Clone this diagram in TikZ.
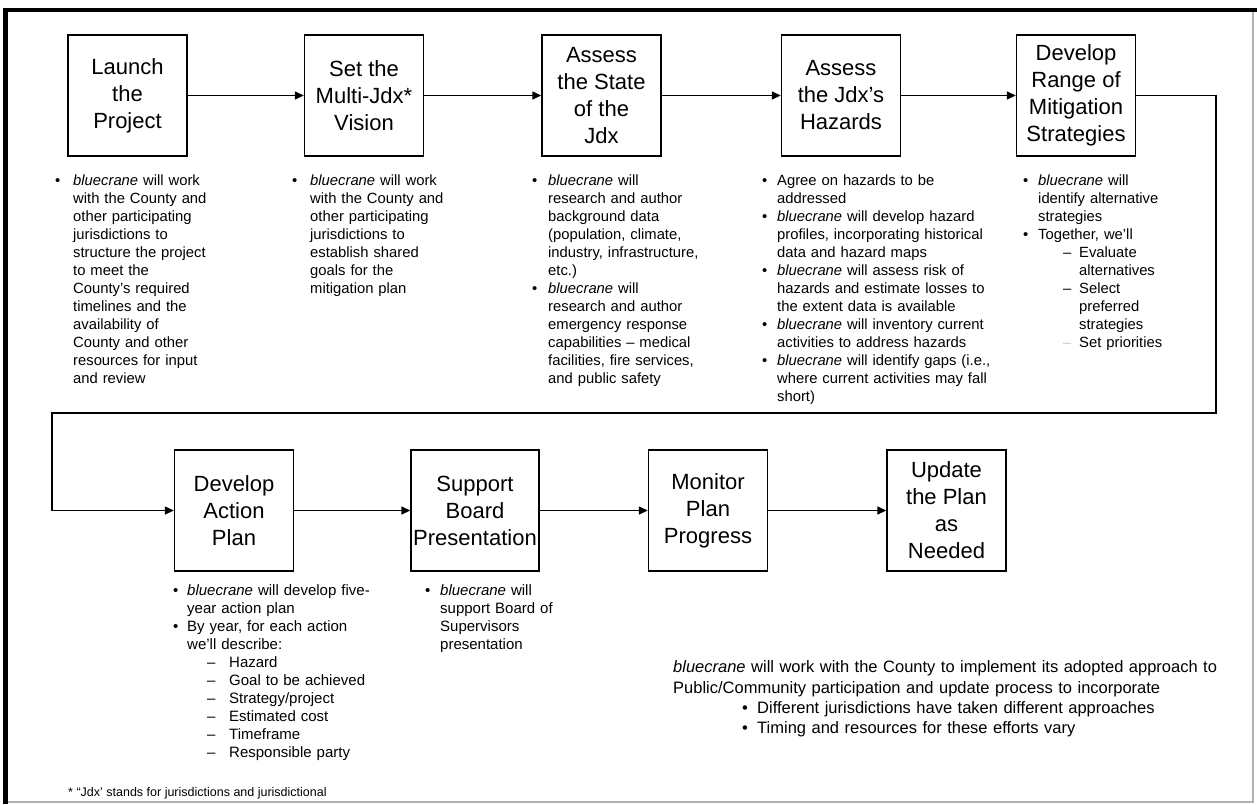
\documentclass[tikz,border=0pt]{standalone}
\usepackage{fontspec}
\setmainfont{Liberation Sans}
\usetikzlibrary{arrows.meta}
\setlength\parindent{0pt}
\newlength\bw
\newlength\dw
\newlength\sw
\newcommand\bul[1]{\makebox[\bw][l]{\textbullet}#1}
\newcommand\cnt[1]{\hspace*{\bw}#1}
\newcommand\subi[1]{\hspace*{\dw}\makebox[\sw][l]{–}#1}
\newcommand\subg[1]{\hspace*{\dw}\makebox[\sw][l]{\textcolor{gray!45}{–}}#1}
\newcommand\scnt[1]{\hspace*{\dw}\hspace*{\sw}#1}
\newcommand\bc{\textit{bluecrane}}
\tikzset{
  title/.style={draw, line width=1.4pt, minimum width=119pt, minimum height=121pt,
    inner sep=0pt, align=center, font=\fontsize{22}{27}\selectfont},
  conn/.style={line width=1.4pt, -{Triangle[length=9pt,width=8pt]}},
  txt/.style={anchor=north west, inner sep=0pt, text width=320pt, align=left,
    font=\fontsize{14.8}{18}\selectfont},
  txtb/.style={txt, font=\fontsize{15}{18}\selectfont},
}
\begin{document}
\begin{tikzpicture}[x=1pt,y=-1pt]
\useasboundingbox (0,0) rectangle (1257,804);
% frame
\draw[gray!60, line width=1.2pt] (5,802) -- (1253,802) -- (1253,10);
\draw[line width=5pt] (5,804) -- (5,10);
\draw[line width=4pt] (2.5,10) -- (1257,10);

% top row boxes
\node[title] (b1) at (127.5,95.5) {Launch\\the\\Project};
\node[title] (b2) at (364,95.5) {Set the\\Multi-Jdx*\\Vision};
\node[title] (b3) at (601.5,95.5) {Assess\\the State\\of the\\Jdx};
\node[title] (b4) at (841,95.5) {Assess\\the Jdx’s\\Hazards};
\node[title] (b5) at (1076,95.5) {Develop\\Range of\\Mitigation\\Strategies};

% bottom row boxes
\node[title] (b6) at (234,510.5) {Develop\\Action\\Plan};
\node[title, minimum width=128pt] (b7) at (475,510.5) {Support\\Board\\Presentation};
\node[title] (b8) at (708,510.5) {Monitor\\Plan\\Progress};
\node[title] (b9) at (946.5,510.5) {Update\\the Plan\\as\\Needed};

% connectors
\draw[conn] (b1) -- (b2);
\draw[conn] (b2) -- (b3);
\draw[conn] (b3) -- (b4);
\draw[conn] (b4) -- (b5);
\coordinate (tr) at (1216,413);
\coordinate (tl) at (52,413);
\draw[conn] (b5.east) -| (tr) -- (tl) |- (b6.west);
\draw[conn] (b6) -- (b7);
\draw[conn] (b7) -- (b8);
\draw[conn] (b8) -- (b9);

% top texts
\node[txt] (t1) at (55,172.4) {\setlength\bw{18pt}\strut\bul{\bc{} will work}\\
\cnt{with the County and}\\
\cnt{other participating}\\
\cnt{jurisdictions to}\\
\cnt{structure the project}\\
\cnt{to meet the}\\
\cnt{County's required}\\
\cnt{timelines and the}\\
\cnt{availability of}\\
\cnt{County and other}\\
\cnt{resources for input}\\
\cnt{and review}};

\node[txt] (t2) at (292,172.4) {\setlength\bw{18pt}\strut\bul{\bc{} will work}\\
\cnt{with the County and}\\
\cnt{other participating}\\
\cnt{jurisdictions to}\\
\cnt{establish shared}\\
\cnt{goals for the}\\
\cnt{mitigation plan}};

\node[txt] (t3) at (532,172.4) {\setlength\bw{16pt}\strut\bul{\bc{} will}\\
\cnt{research and author}\\
\cnt{background data}\\
\cnt{(population, climate,}\\
\cnt{industry, infrastructure,}\\
\cnt{etc.)}\\
\bul{\bc{} will}\\
\cnt{research and author}\\
\cnt{emergency response}\\
\cnt{capabilities – medical}\\
\cnt{facilities, fire services,}\\
\cnt{and public safety}};

\node[txt] (t4) at (762,172.4) {\setlength\bw{15pt}\strut\bul{Agree on hazards to be}\\
\cnt{addressed}\\
\bul{\bc{} will develop hazard}\\
\cnt{profiles, incorporating historical}\\
\cnt{data and hazard maps}\\
\bul{\bc{} will assess risk of}\\
\cnt{hazards and estimate losses to}\\
\cnt{the extent data is available}\\
\bul{\bc{} will inventory current}\\
\cnt{activities to address hazards}\\
\bul{\bc{} will identify gaps (i.e.,}\\
\cnt{where current activities may fall}\\
\cnt{short)}};

\node[txt] (t5) at (1023,172.4) {\setlength\bw{15pt}\setlength\dw{40pt}\setlength\sw{16pt}\strut\bul{\bc{} will}\\
\cnt{identify alternative}\\
\cnt{strategies}\\
\bul{Together, we'll}\\
\subi{Evaluate}\\
\scnt{alternatives}\\
\subi{Select}\\
\scnt{preferred}\\
\scnt{strategies}\\
\subg{Set priorities}};

% bottom texts
\node[txtb] (t6) at (173,582.4) {\setlength\bw{14pt}\setlength\dw{34pt}\setlength\sw{22pt}\strut\bul{\bc{} will develop five-}\\
\cnt{year action plan}\\
\bul{By year, for each action}\\
\cnt{we'll describe:}\\
\subi{Hazard}\\
\subi{Goal to be achieved}\\
\subi{Strategy/project}\\
\subi{Estimated cost}\\
\subi{Timeframe}\\
\subi{Responsible party}};

\node[txtb] (t7) at (425,582.4) {\setlength\bw{15pt}\strut\bul{\bc{} will}\\
\cnt{support Board of}\\
\cnt{Supervisors}\\
\cnt{presentation}};

\node[txt, text width=600pt, font=\fontsize{16.5}{20.3}\selectfont] (t8) at (673,658.3) {\setlength\bw{15pt}\strut\bc{} will work with the County to implement its adopted approach to\\
Public/Community participation and update process to incorporate\\
\hspace*{69pt}\bul{Different jurisdictions have taken different approaches}\\
\hspace*{69pt}\bul{Timing and resources for these efforts vary}};

\node[anchor=base west, inner sep=0pt, font=\fontsize{12.5}{14}\selectfont] (fn) at (68,796) {* “Jdx’ stands for jurisdictions and jurisdictional};
\end{tikzpicture}
\end{document}
